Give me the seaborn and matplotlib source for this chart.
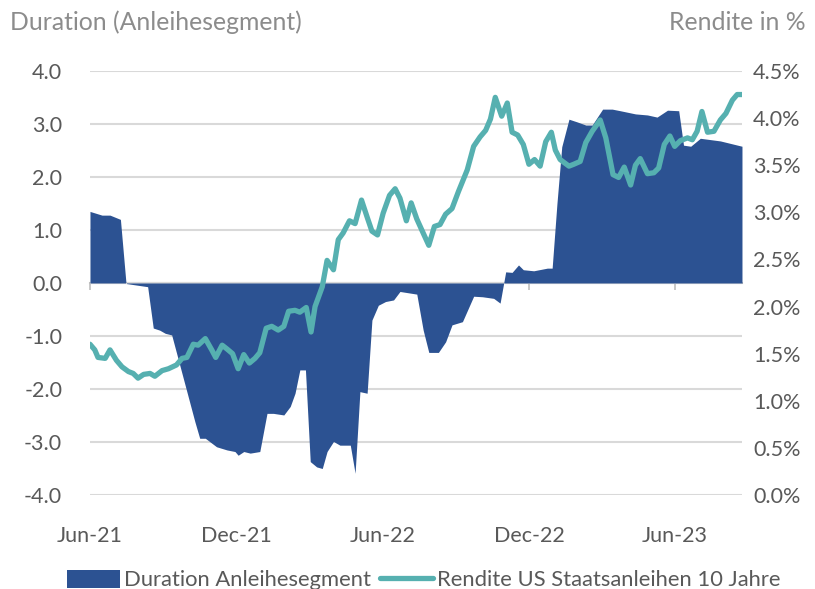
# ============================================================
# IMPORT LIBRARIES
# ============================================================

import numpy as np
import pandas as pd
import matplotlib
matplotlib.use("Agg")
import matplotlib.pyplot as plt
import seaborn as sns
from matplotlib.patches import Patch
from matplotlib.lines import Line2D

# ============================================================
# DATA
# ============================================================

duration_dates = [
    "2021-06-01", "2021-06-16", "2021-06-26", "2021-07-09", "2021-07-16",
    "2021-08-12", "2021-08-19", "2021-08-27", "2021-09-03", "2021-09-11",
    "2021-10-10", "2021-10-16", "2021-10-23", "2021-11-06", "2021-11-19",
    "2021-11-29", "2021-12-03", "2021-12-10", "2021-12-18", "2021-12-30",
    "2022-01-08", "2022-01-16", "2022-01-29", "2022-02-06", "2022-02-12",
    "2022-02-18", "2022-02-25", "2022-03-03", "2022-03-11", "2022-03-18",
    "2022-03-24", "2022-04-01", "2022-04-09", "2022-04-22", "2022-04-28",
    "2022-05-04", "2022-05-13", "2022-05-19", "2022-05-27", "2022-06-05",
    "2022-06-15", "2022-06-23", "2022-07-14", "2022-07-22", "2022-07-29",
    "2022-08-10", "2022-08-19", "2022-08-27", "2022-09-09", "2022-09-23",
    "2022-10-04", "2022-10-18", "2022-10-26", "2022-11-02", "2022-11-10",
    "2022-11-18", "2022-11-24", "2022-12-07", "2022-12-24", "2022-12-30",
    "2023-01-05", "2023-01-11", "2023-01-20", "2023-01-30", "2023-02-10",
    "2023-02-18", "2023-03-03", "2023-03-15", "2023-03-25", "2023-04-13",
    "2023-04-28", "2023-05-10", "2023-05-23", "2023-06-06", "2023-06-12",
    "2023-06-21", "2023-07-03", "2023-07-28", "2023-08-24",
]

duration_values = [
    1.35, 1.28, 1.28, 1.20, -0.01,
    -0.07, -0.85, -0.89, -0.95, -0.98,
    -2.62, -2.93, -2.93, -3.09, -3.15,
    -3.18, -3.25, -3.18, -3.21, -3.18,
    -2.46, -2.46, -2.49, -2.33, -2.08,
    -1.64, -1.64, -3.37, -3.47, -3.50,
    -3.18, -2.99, -3.06, -3.06, -3.59,
    -2.05, -2.08, -0.70, -0.42, -0.35,
    -0.32, -0.16, -0.21, -0.89, -1.31,
    -1.31, -1.11, -0.79, -0.73, -0.25,
    -0.26, -0.29, -0.38, 0.21, 0.20,
    0.34, 0.25, 0.23, 0.28, 0.28,
    1.50, 2.57, 3.09, 3.04, 2.98,
    2.98, 3.28, 3.28, 3.25, 3.19,
    3.17, 3.13, 3.26, 3.25, 2.60,
    2.58, 2.73, 2.68, 2.58,
]

yield_dates = [
    "2021-06-01", "2021-06-07", "2021-06-11", "2021-06-20", "2021-06-26",
    "2021-07-04", "2021-07-11", "2021-07-19", "2021-07-25", "2021-07-31",
    "2021-08-07", "2021-08-15", "2021-08-21", "2021-08-30", "2021-09-07",
    "2021-09-17", "2021-09-24", "2021-09-30", "2021-10-08", "2021-10-14",
    "2021-10-23", "2021-10-31", "2021-11-05", "2021-11-13", "2021-11-19",
    "2021-11-26", "2021-12-03", "2021-12-10", "2021-12-17", "2021-12-24",
    "2021-12-30", "2022-01-07", "2022-01-14", "2022-01-22", "2022-01-29",
    "2022-02-04", "2022-02-12", "2022-02-18", "2022-02-26", "2022-03-04",
    "2022-03-09", "2022-03-18", "2022-03-24", "2022-04-01", "2022-04-07",
    "2022-04-13", "2022-04-21", "2022-04-28", "2022-05-06", "2022-05-13",
    "2022-05-19", "2022-05-26", "2022-06-02", "2022-06-10", "2022-06-17",
    "2022-06-23", "2022-07-01", "2022-07-07", "2022-07-14", "2022-07-22",
    "2022-07-29", "2022-08-05", "2022-08-12", "2022-08-19", "2022-08-27",
    "2022-09-04", "2022-09-15", "2022-09-23", "2022-10-01", "2022-10-08",
    "2022-10-14", "2022-10-20", "2022-10-28", "2022-11-04", "2022-11-10",
    "2022-11-17", "2022-11-24", "2022-12-01", "2022-12-08", "2022-12-15",
    "2022-12-22", "2022-12-29", "2023-01-03", "2023-01-09", "2023-01-20",
    "2023-01-26", "2023-02-03", "2023-02-10", "2023-02-18", "2023-02-28",
    "2023-03-07", "2023-03-16", "2023-03-23", "2023-03-30", "2023-04-07",
    "2023-04-13", "2023-04-19", "2023-04-28", "2023-05-06", "2023-05-12",
    "2023-05-19", "2023-05-26", "2023-06-01", "2023-06-08", "2023-06-17",
    "2023-06-23", "2023-06-29", "2023-07-05", "2023-07-12", "2023-07-20",
    "2023-07-28", "2023-08-04", "2023-08-12", "2023-08-18", "2023-08-24",
]

yield_values = [
    1.60, 1.54, 1.46, 1.45, 1.54,
    1.43, 1.36, 1.31, 1.29, 1.24,
    1.28, 1.29, 1.26, 1.32, 1.34,
    1.38, 1.45, 1.46, 1.60, 1.59,
    1.66, 1.54, 1.46, 1.59, 1.55,
    1.50, 1.34, 1.49, 1.40, 1.45,
    1.51, 1.77, 1.79, 1.75, 1.79,
    1.95, 1.96, 1.94, 1.99, 1.73,
    2.00, 2.21, 2.49, 2.39, 2.71,
    2.78, 2.91, 2.88, 3.13, 2.95,
    2.80, 2.76, 2.99, 3.18, 3.25,
    3.15, 2.91, 3.10, 2.93, 2.78,
    2.65, 2.85, 2.87, 2.98, 3.04,
    3.22, 3.45, 3.70, 3.80, 3.87,
    3.99, 4.22, 4.02, 4.16, 3.85,
    3.82, 3.72, 3.51, 3.56, 3.49,
    3.75, 3.85, 3.66, 3.56, 3.49,
    3.51, 3.54, 3.74, 3.86, 3.98,
    3.79, 3.40, 3.37, 3.48, 3.29,
    3.50, 3.57, 3.41, 3.42, 3.47,
    3.72, 3.81, 3.70, 3.76, 3.79,
    3.77, 3.86, 4.07, 3.85, 3.86,
    3.98, 4.05, 4.19, 4.25, 4.25,
]

x_tick_dates = ["2021-06-01", "2021-12-01", "2022-06-01", "2022-12-01", "2023-06-01"]
x_tick_labels = ["Jun-21", "Dec-21", "Jun-22", "Dec-22", "Jun-23"]

left_ticks = [-4, -3, -2, -1, 0, 1, 2, 3, 4]
left_tick_labels = ["-4.0", "-3.0", "-2.0", "-1.0", "0.0", "1.0", "2.0", "3.0", "4.0"]

right_ticks = [0, 0.5, 1, 1.5, 2, 2.5, 3, 3.5, 4, 4.5]
right_tick_labels = ["0.0%", "0.5%", "1.0%", "1.5%", "2.0%", "2.5%", "3.0%", "3.5%", "4.0%", "4.5%"]

# ============================================================
# STYLE
# ============================================================

BLUE = "#2C5292"
TEAL = "#56B0B0"
GRID = "#D9D9D9"
TICK_TEXT = "#595959"
TITLE_TEXT = "#8C8C8C"

sns.set_theme(style="white")
plt.rcParams["font.family"] = ["Lato", "DejaVu Sans"]

df_dur = pd.DataFrame({"date": pd.to_datetime(duration_dates), "duration": duration_values})
df_yld = pd.DataFrame({"date": pd.to_datetime(yield_dates), "rendite": yield_values})

# ============================================================
# FIGURE
# ============================================================

fig = plt.figure(figsize=(8.15, 5.89), dpi=100)
ax = fig.add_axes([0.1104, 0.1596, 0.80, 0.7199])

ax.fill_between(df_dur["date"], df_dur["duration"], 0, color=BLUE, lw=0, zorder=2)

ax.set_ylim(-4, 4)
ax.set_yticks(left_ticks)
ax.set_yticklabels(left_tick_labels)
ax.set_xlim(pd.Timestamp(duration_dates[0]), pd.Timestamp(duration_dates[-1]))
ax.set_xticks(pd.to_datetime(x_tick_dates))
ax.set_xticklabels(x_tick_labels)

ax.grid(axis="y", color=GRID, lw=1.5, zorder=0)
ax.grid(axis="x", visible=False)
ax.set_axisbelow(True)
for s in ax.spines.values():
    s.set_visible(False)

ax.tick_params(axis="y", length=0, pad=20, labelsize=15.5, labelcolor=TICK_TEXT)
ax.tick_params(axis="x", length=0, pad=22, labelsize=15.5, labelcolor=TICK_TEXT)
ax.set_xlabel("")
ax.set_ylabel("")

# zero line with tick marks
zero_axis = ax.secondary_xaxis(0.5)
zero_axis.set_xticks(pd.to_datetime(x_tick_dates))
zero_axis.tick_params(axis="x", bottom=True, top=False, direction="out",
                      length=5, width=1.2, color="#BFBFBF",
                      labelbottom=False, labeltop=False)
for name, s in zero_axis.spines.items():
    s.set_visible(name == "bottom")
    s.set_color("#BFBFBF")
    s.set_linewidth(1.5)

# ============================================================
# YIELD LINE (RIGHT AXIS)
# ============================================================

ax2 = ax.twinx()
sns.lineplot(data=df_yld, x="date", y="rendite", ax=ax2, color=TEAL, lw=3.8, zorder=3)
ax2.set_ylim(0, 4.5)
ax2.set_yticks(right_ticks)
ax2.set_yticklabels(right_tick_labels)
ax2.set_xlim(ax.get_xlim())
ax2.grid(False)
for s in ax2.spines.values():
    s.set_visible(False)
ax2.tick_params(axis="y", length=0, pad=8, labelsize=15.5, labelcolor=TICK_TEXT)
ax2.set_xlabel("")
ax2.set_ylabel("")

# ============================================================
# AXIS TITLES
# ============================================================

fig.text(0.012, 0.962, "Duration (Anleihesegment)", ha="left", va="center",
         fontsize=17.8, color=TITLE_TEXT)
fig.text(0.988, 0.962, "Rendite in %", ha="right", va="center",
         fontsize=17.8, color=TITLE_TEXT)

# ============================================================
# LEGEND
# ============================================================

handles = [
    Patch(facecolor=BLUE, edgecolor="none"),
    Line2D([], [], color=TEAL, lw=3.8),
]
labels = ["Duration Anleihesegment", "Rendite US Staatsanleihen 10 Jahre"]
fig.legend(handles, labels, loc="lower center", bbox_to_anchor=(0.52, -0.036),
           ncol=2, frameon=False, fontsize=15.8, handlelength=2.4, handleheight=0.9,
           handletextpad=0.2, columnspacing=0.4, labelcolor=TICK_TEXT)

fig.savefig("out.png", dpi=100)
